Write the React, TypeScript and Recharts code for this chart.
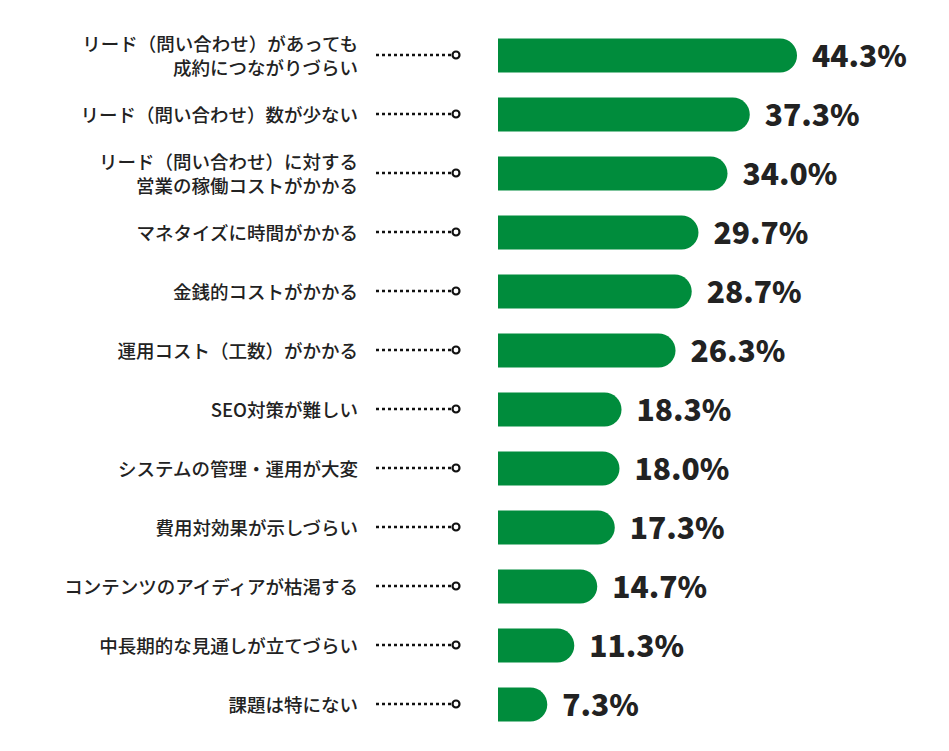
import React from 'react';
import { BarChart, Bar, XAxis, YAxis, LabelList, Cell } from 'recharts';

// 課題ラベル（改行は \n）
const categories = [
  'リード（問い合わせ）があっても\n成約につながりづらい',
  'リード（問い合わせ）数が少ない',
  'リード（問い合わせ）に対する\n営業の稼働コストがかかる',
  'マネタイズに時間がかかる',
  '金銭的コストがかかる',
  '運用コスト（工数）がかかる',
  'SEO対策が難しい',
  'システムの管理・運用が大変',
  '費用対効果が示しづらい',
  'コンテンツのアイディアが枯渇する',
  '中長期的な見通しが立てづらい',
  '課題は特にない',
];
const values = [44.3, 37.3, 34.0, 29.7, 28.7, 26.3, 18.3, 18.0, 17.3, 14.7, 11.3, 7.3];

const data = categories.map((name, i) => ({ name, value: values[i] }));

const FONT = '"Noto Sans CJK JP", "Noto Sans", sans-serif';
const GREEN = '#008c3c';

const CategoryTick = (props: any) => {
  const { x, y, payload } = props;
  const lines: string[] = String(payload.value).split('\n');
  const offsets = lines.length > 1 ? [-12, 12] : [0];
  return (
    <g>
      {lines.map((t, i) => (
        <text
          key={i}
          x={x - 140}
          y={y + offsets[i]}
          textAnchor="end"
          dominantBaseline="central"
          fontFamily={FONT}
          fontSize={18.5}
          fontWeight={500}
          fill="#222"
        >
          {t}
        </text>
      ))}
      <line x1={x - 122} y1={y} x2={x - 46} y2={y} stroke="#111" strokeWidth={2.5} strokeDasharray="3 3" />
      <circle cx={x - 42} cy={y} r={3.5} fill="#fff" stroke="#111" strokeWidth={2.2} />
    </g>
  );
};

const renderValue = (props: any) => {
  const { x, y, width, height, value } = props;
  return (
    <text
      x={x + width + 15}
      y={y + height / 2 - 2}
      dominantBaseline="central"
      fontFamily={FONT}
      fontSize={30}
      fontWeight={900}
      fill="#222"
    >
      {`${Number(value).toFixed(1)}%`}
    </text>
  );
};

export default function App() {
  return (
    <div style={{ position: 'absolute', left: 0, top: 0, background: '#fff' }}>
      <BarChart
        width={949}
        height={751}
        data={data}
        layout="vertical"
        margin={{ top: 25.5, right: 113.5, bottom: 17.5, left: 0 }}
      >
        <XAxis type="number" domain={[0, 50]} hide />
        <YAxis
          type="category"
          dataKey="name"
          width={498}
          axisLine={false}
          tickLine={false}
          tickSize={0}
          tickMargin={0}
          interval={0}
          tick={<CategoryTick />}
        />
        <Bar dataKey="value" barSize={34} radius={[0, 17, 17, 0]} isAnimationActive={false}>
          {data.map((d, i) => (
            <Cell key={`c-${i}`} fill={GREEN} />
          ))}
          <LabelList dataKey="value" content={renderValue} />
        </Bar>
      </BarChart>
    </div>
  );
}
